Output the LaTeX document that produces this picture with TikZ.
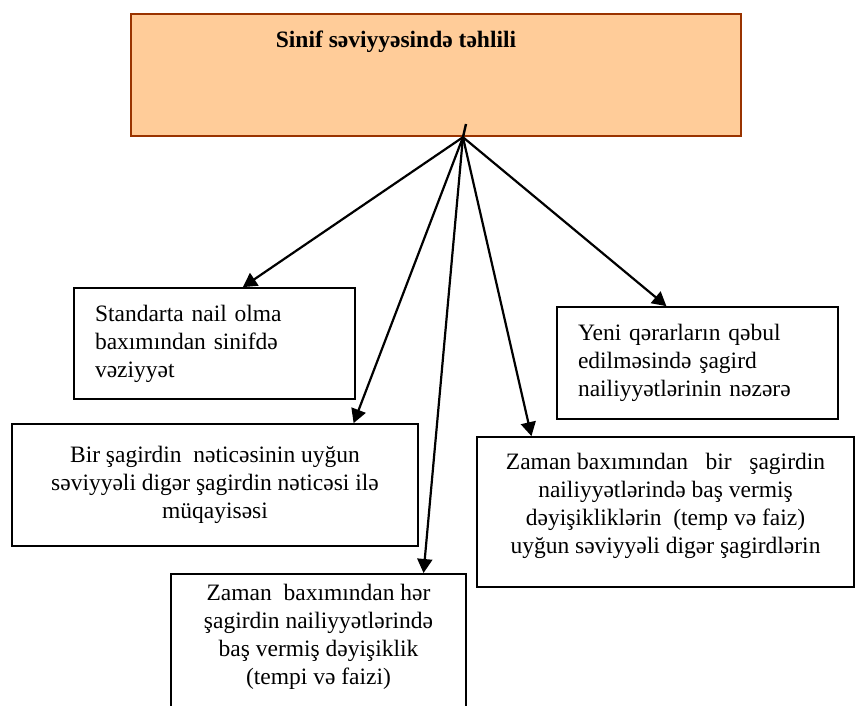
\documentclass[tikz,border=0pt]{standalone}
\usepackage{fontspec}
\setmainfont{Liberation Serif}
\usetikzlibrary{arrows.meta}
\usetikzlibrary{calc}
\definecolor{peach}{HTML}{FFCC99}
\definecolor{rust}{HTML}{993300}

\begin{document}
\begin{tikzpicture}[
    x=1pt, y=-1pt,
    font=\fontsize{23.5}{28}\selectfont,
    textbox/.style={rectangle, draw=black, line width=1.7pt, fill=white,
      align=center, inner sep=0pt},
    leftbox/.style={textbox, align=left, inner xsep=21pt, text width=239pt},
    headbox/.style={rectangle, draw=rust, fill=peach, line width=2.4pt,
      minimum width=610pt, minimum height=122pt},
    arrow/.style={-{Triangle[length=14pt, width=15pt]}, line width=2.2pt},
  ]
    \clip (0,0) rectangle (856,706);
    \node[headbox] (head) at (436,75) {};
    \node[font=\fontsize{23.5}{28}\selectfont\bfseries] (title) at (396,42)
      {Sinif səviyyəsində təhlili};
    \node[leftbox, minimum height=111pt] (state) at (214.5,343.5)
      {Standarta nail olma\\baxımından sinifdə\\vəziyyət};
    \node[textbox, minimum width=406pt, minimum height=122pt] (compare) at (215,485)
      {Bir şagirdin\ \ nəticəsinin uyğun\\səviyyəli digər şagirdin nəticəsi ilə\\müqayisəsi};
    \node[textbox, minimum width=295pt, anchor=north, inner ysep=10pt] (change) at (318.5,573)
      {Zaman\ \ baxımından hər\\şagirdin nailiyyətlərində\\baş vermiş dəyişiklik\\(tempi və faizi)\rule[-25pt]{0pt}{25pt}};
    \node[leftbox, minimum height=112pt] (decide) at (697.5,363)
      {Yeni qərarların qəbul\\edilməsində şagird\\nailiyyətlərinin nəzərə};
    \node[textbox, minimum width=377pt, minimum height=150pt] (peers) at (665.5,512)
      {Zaman baxımından\ \ \ bir\ \ \ şagirdin\\nailiyyətlərində baş vermiş\\dəyişikliklərin\ \ (temp və faiz)\\uyğun səviyyəli digər şagirdlərin\rule[-17pt]{0pt}{17pt}};

    \coordinate (hub) at ($(head.south west)!0.544!(head.south east)$);
    \coordinate (tick) at (466,124);
    \draw[line width=2.4pt] (tick) -- (hub);
    \draw[arrow] (hub) -- ($(state.north west)!0.6!(state.north east)$);
    \draw[arrow] (hub) -- ($(compare.north west)!0.84!(compare.north east)$);
    \draw[arrow] (hub) -- ($(change.north west)!0.854!(change.north east)$);
    \draw[arrow] (hub) -- ($(peers.north west)!0.146!(peers.north east)$);
    \draw[arrow] (hub) -- ($(decide.north west)!0.39!(decide.north east)$);
  \end{tikzpicture}
\end{document}
